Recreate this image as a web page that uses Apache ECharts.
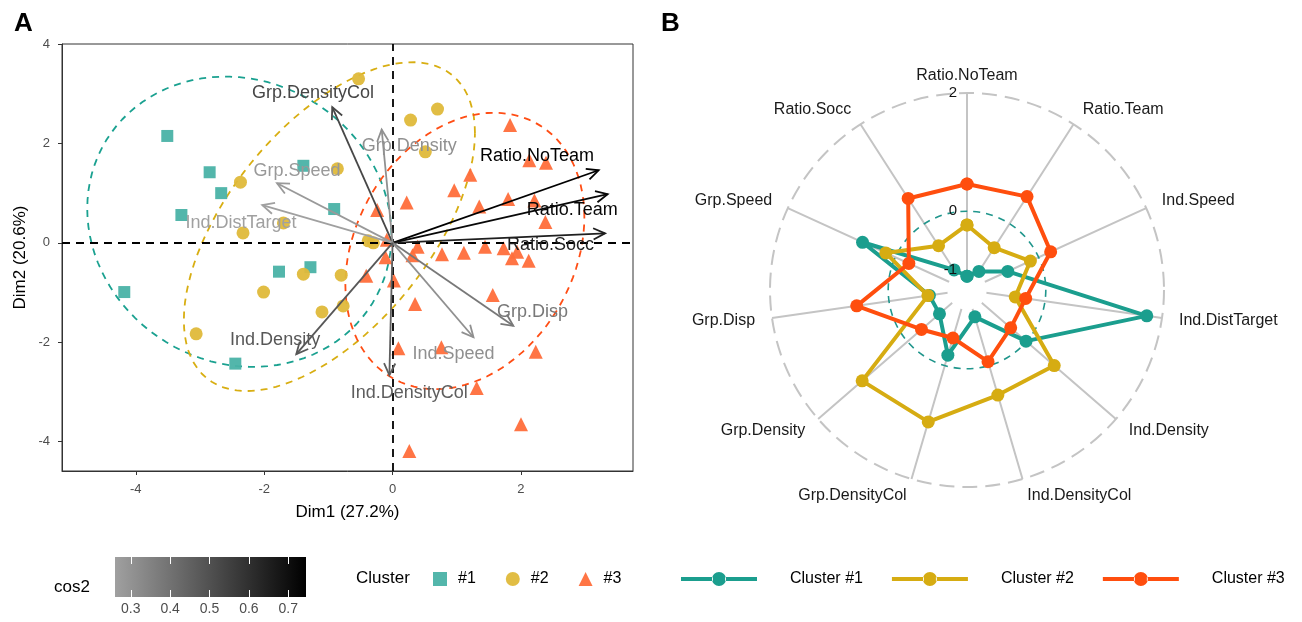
<!DOCTYPE html>
<html><head><meta charset="utf-8">
<script src="https://cdn.jsdelivr.net/npm/echarts@6/dist/echarts.min.js"></script>
<style>html,body{margin:0;padding:0;background:#fff}#c{width:1302px;height:622px}</style>
</head><body><div id="c"></div>
<script>
// ---------- Panel A: individuals (Dim1, Dim2) per cluster ----------
const clusterNames = ['#1', '#2', '#3'];
const c1x = [-3.51,-2.85,-2.67,-3.29,-1.39,-0.91,-4.18,-1.77,-1.28,-2.45];
const c1y = [2.15,1.42,1.00,0.56,1.55,0.68,-0.99,-0.58,-0.49,-2.43];
const c2x = [-0.53,0.70,0.28,0.51,-0.86,-2.37,-1.70,-2.33,-1.39,-0.80,-2.01,-1.10,-0.77,-3.06,-0.38,-0.30];
const c2y = [3.30,2.69,2.47,1.83,1.49,1.22,0.40,0.20,-0.63,-0.65,-0.99,-1.39,-1.27,-1.83,0.04,0.00];
const c3x = [1.83,2.13,2.39,1.21,0.96,0.22,-0.24,1.35,1.80,2.21,2.38,-0.09,0.39,0.31,0.77,1.11,1.44,1.73,1.86,1.94,2.12,-0.11,-0.41,0.02,0.35,1.56,0.09,0.76,2.23,1.31,2.00,0.26];
const c3y = [2.37,1.66,1.61,1.37,1.06,0.81,0.66,0.73,0.88,0.85,0.42,0.06,-0.08,-0.25,-0.23,-0.20,-0.08,-0.11,-0.31,-0.18,-0.36,-0.29,-0.66,-0.76,-1.23,-1.05,-2.12,-2.10,-2.19,-2.92,-3.65,-4.19];

// variables (arrows)
const varNames = ['Ratio.NoTeam','Ratio.Team','Ratio.Socc','Grp.DensityCol','Grp.Density','Grp.Speed','Ind.DistTarget','Grp.Disp','Ind.Speed','Ind.DensityCol','Ind.Density'];
const varDim1 = [3.21,3.35,3.31,-0.94,-0.17,-1.80,-2.03,1.88,1.26,-0.05,-1.50];
const varDim2 = [1.46,0.98,0.19,2.73,2.28,1.20,0.76,-1.67,-1.90,-2.66,-2.24];
const varCos2 = [0.745,0.72,0.65,0.53,0.31,0.28,0.26,0.38,0.31,0.46,0.48];
const varLabelDim1 = [2.25,2.80,2.46,-1.24,0.26,-1.49,-2.36,2.18,0.95,0.26,-1.83];
const varLabelDim2 = [1.75,0.65,-0.05,3.01,1.95,1.44,0.40,-1.39,-2.24,-3.02,-1.96];

const xTicks = [-4, -2, 0, 2];
const yTicks = [-4, -2, 0, 2, 4];
const cosTicks = [0.3, 0.4, 0.5, 0.6, 0.7];

// ---------- Panel B: radar ----------
const radarAxes = ['Ratio.NoTeam','Ratio.Team','Ind.Speed','Ind.DistTarget','Ind.Density','Ind.DensityCol','Grp.DensityCol','Grp.Density','Grp.Disp','Grp.Speed','Ratio.Socc'];
const radarNames = ['Cluster #1', 'Cluster #2', 'Cluster #3'];
const radar1 = [-1.10,-0.96,-0.575,1.74,-0.012,-0.86,-0.184,-0.717,-0.69,0.61,-0.93];
const radar2 = [-0.233,-0.482,-0.154,-0.509,0.62,0.52,0.993,1.014,-0.665,0.178,-0.443];
const radar3 = [0.46,0.545,0.223,-0.33,-0.355,-0.07,-0.487,-0.314,0.552,-0.252,0.508];
const radarTicks = [-1, 0, 2];
const radarMin = -4/3, radarMax = 2;

// ---------- styling ----------
const FONT = '"Liberation Sans", Arial, sans-serif';
const ptCol = ['#4AB2A7', '#DFB93A', '#FF6E3B'];
const ellCol = ['#1AA190', '#D8AE12', '#FF4D14'];
const radCol = ['#1B9E8E', '#D6AC12', '#FF4E0E'];
const LOW_GRAY = 160;
const cosLo = Math.min(...varCos2), cosHi = Math.max(...varCos2);
function grayFor(c) {
  const t = (c - cosLo) / (cosHi - cosLo);
  const g = Math.round(LOW_GRAY * (1 - t));
  return 'rgb(' + g + ',' + g + ',' + g + ')';
}

// multivariate-t ellipse (robust scatter, as in ggplot2 stat_ellipse type "t")
const ellipseLevel = 0.9;
function tEllipse(xs, ys) {
  const n = xs.length, p = 2, nu = 5;
  let loc = [xs.reduce((a, b) => a + b, 0) / n, ys.reduce((a, b) => a + b, 0) / n];
  let w = new Array(n).fill(1);
  let X = [];
  for (let it = 0; it < 25; it++) {
    const w0 = w.slice();
    X = xs.map((x, i) => [x - loc[0], ys[i] - loc[1]]);
    const sw = w.reduce((a, b) => a + b, 0);
    let a = 0, b = 0, c = 0;
    X.forEach((d, i) => { a += w[i] * d[0] * d[0]; b += w[i] * d[0] * d[1]; c += w[i] * d[1] * d[1]; });
    a /= sw; b /= sw; c /= sw;
    const det = a * c - b * b;
    w = X.map(d => (nu + p) / (nu + (c * d[0] * d[0] - 2 * b * d[0] * d[1] + a * d[1] * d[1]) / det));
    const sw2 = w.reduce((s, v) => s + v, 0);
    loc = [xs.reduce((s, x, i) => s + w[i] * x, 0) / sw2, ys.reduce((s, y, i) => s + w[i] * y, 0) / sw2];
    if (w.every((v, i) => Math.abs(v - w0[i]) < 0.01)) break;
  }
  let a = 0, b = 0, c = 0;
  X.forEach((d, i) => { a += w[i] * d[0] * d[0]; b += w[i] * d[0] * d[1]; c += w[i] * d[1] * d[1]; });
  a /= n; b /= n; c /= n;
  const dfd = n - 1;
  const fq = (dfd / 2) * (Math.pow(1 - ellipseLevel, -2 / dfd) - 1);
  const radius = Math.sqrt(2 * fq);
  const r11 = Math.sqrt(a), r12 = b / r11, r22 = Math.sqrt(Math.max(c - r12 * r12, 0));
  const pts = [];
  for (let k = 0; k <= 100; k++) {
    const t = 2 * Math.PI * k / 100;
    const u = Math.cos(t), v = Math.sin(t);
    pts.push([loc[0] + radius * u * r11, loc[1] + radius * (u * r12 + v * r22)]);
  }
  return pts;
}

const clusters = [[c1x, c1y], [c2x, c2y], [c3x, c3y]];
const symbols = ['rect', 'circle', 'triangle'];
const symSizes = [12, 13, 14];

const series = [];
clusters.forEach((c, k) => {
  series.push({
    type: 'line', name: 'ellipse' + k, xAxisIndex: 0, yAxisIndex: 0,
    data: tEllipse(c[0], c[1]), showSymbol: false, symbol: 'none', smooth: false,
    lineStyle: { color: ellCol[k], width: 1.8, type: [7, 6] }, z: 2, silent: true
  });
});
clusters.forEach((c, k) => {
  const s = {
    type: 'scatter', name: clusterNames[k], xAxisIndex: 0, yAxisIndex: 0,
    data: c[0].map((x, i) => [x, c[1][i]]),
    symbol: symbols[k], symbolSize: symSizes[k],
    itemStyle: { color: ptCol[k], opacity: 0.95 }, z: 3
  };
  if (k === 0) {
    s.markLine = {
      silent: true, symbol: 'none', label: { show: false },
      lineStyle: { color: '#000', type: [8, 6], width: 1.8 },
      data: [{ xAxis: 0 }, { yAxis: 0 }]
    };
  }
  series.push(s);
});

// arrows + labels
series.push({
  type: 'custom', name: 'vars', xAxisIndex: 0, yAxisIndex: 0, z: 5, silent: true,
  data: varDim1.map((x, i) => [x, varDim2[i], varCos2[i]]),
  encode: { x: 0, y: 1 },
  renderItem: function (params, api) {
    const i = params.dataIndex;
    const o = api.coord([0, 0]);
    const p = api.coord([api.value(0), api.value(1)]);
    const col = grayFor(api.value(2));
    const ang = Math.atan2(p[1] - o[1], p[0] - o[0]);
    const L = 13, a = Math.PI / 7;
    const h1 = [p[0] - L * Math.cos(ang - a), p[1] - L * Math.sin(ang - a)];
    const h2 = [p[0] - L * Math.cos(ang + a), p[1] - L * Math.sin(ang + a)];
    const lp = api.coord([varLabelDim1[i], varLabelDim2[i]]);
    return {
      type: 'group', children: [
        { type: 'line', shape: { x1: o[0], y1: o[1], x2: p[0], y2: p[1] }, style: { stroke: col, lineWidth: 1.8 } },
        { type: 'polyline', shape: { points: [h1, p, h2] }, style: { stroke: col, lineWidth: 1.8, fill: null } },
        { type: 'text', x: lp[0], y: lp[1], style: { text: varNames[i], fill: col, font: '18px ' + FONT, align: 'center', verticalAlign: 'middle' } }
      ]
    };
  }
});

// radar frame (grid circles, center hole)
const step = 360 / radarAxes.length;
series.push({
  type: 'custom', name: 'radarGrid', coordinateSystem: 'polar', polarIndex: 0, z: 1, silent: true,
  data: radarTicks.map(v => [v, 0]),
  renderItem: function (params, api) {
    const c = api.coord([radarMin, 0]);
    const p = api.coord([api.value(0), 0]);
    const r = Math.hypot(p[0] - c[0], p[1] - c[1]);
    let style;
    if (params.dataIndex === 0) style = { fill: '#fff', stroke: null };
    else if (params.dataIndex === 1) style = { fill: null, stroke: '#20968C', lineWidth: 1.6, lineDash: [7, 6] };
    else style = { fill: null, stroke: '#C4C4C4', lineWidth: 2, lineDash: [15, 8] };
    return { type: 'circle', shape: { cx: c[0], cy: c[1], r: r }, style: style };
  }
});
// radar tick labels (drawn on top)
series.push({
  type: 'custom', name: 'radarTickLabels', coordinateSystem: 'polar', polarIndex: 0, z: 10, silent: true,
  data: radarTicks.map(v => [v, 0]),
  renderItem: function (params, api) {
    const p = api.coord([api.value(0), 0]);
    return { type: 'text', x: p[0] - 10, y: p[1], style: { text: String(radarTicks[params.dataIndex]), fill: '#111', font: '15px ' + FONT, align: 'right', verticalAlign: 'middle' } };
  }
});
// radar axis labels
series.push({
  type: 'custom', name: 'radarLabels', coordinateSystem: 'polar', polarIndex: 0, z: 1, silent: true,
  data: radarAxes.map((n, i) => [radarMax, i * step]),
  renderItem: function (params, api) {
    const c = api.coord([radarMin, 0]);
    const p = api.coord([api.value(0), api.value(1)]);
    const f = 1.087;
    const x = c[0] + (p[0] - c[0]) * f, y = c[1] + (p[1] - c[1]) * f;
    const dx = p[0] - c[0];
    const align = dx > 5 ? 'left' : (dx < -5 ? 'right' : 'center');
    return { type: 'text', x: x, y: y, style: { text: radarAxes[params.dataIndex], fill: '#1a1a1a', font: '16px ' + FONT, align: align, verticalAlign: 'middle' } };
  }
});
[radar1, radar2, radar3].forEach((vals, k) => {
  const d = vals.map((v, i) => [v, i * step]);
  d.push([vals[0], 360]);
  series.push({
    type: 'line', name: radarNames[k], coordinateSystem: 'polar', polarIndex: 0,
    data: d, symbol: 'circle', symbolSize: 13, showSymbol: true,
    lineStyle: { color: radCol[k], width: 4 }, itemStyle: { color: radCol[k] }, z: 4 + k
  });
});

const lineLegendIcon = 'path://M0,5H32V9H0Z M44,5H76V9H44Z M31,7a7,7 0 1,0 14,0a7,7 0 1,0 -14,0Z';

const option = {
  animation: false,
  backgroundColor: '#fff',
  textStyle: { fontFamily: FONT },
  title: [
    { text: 'A', left: 9, top: 6, textStyle: { fontSize: 26, fontWeight: 'bold', color: '#000', fontFamily: FONT } },
    { text: 'B', left: 656, top: 6, textStyle: { fontSize: 26, fontWeight: 'bold', color: '#000', fontFamily: FONT } },
    { text: 'cos2', left: 49, top: 574, textStyle: { fontSize: 17, fontWeight: 'normal', color: '#000', fontFamily: FONT } },
    { text: 'Cluster', left: 351, top: 565, textStyle: { fontSize: 17, fontWeight: 'normal', color: '#000', fontFamily: FONT } }
  ],
  grid: [
    { left: 62, top: 44, width: 571, height: 427, show: true, borderColor: '#333', borderWidth: 1, backgroundColor: 'transparent' },
    { left: 115, top: 557, width: 191, height: 40, show: true, borderWidth: 0,
      backgroundColor: new echarts.graphic.LinearGradient(0, 0, 1, 0, [
        { offset: 0, color: grayFor(cosLo) }, { offset: 1, color: grayFor(cosHi) }]) }
  ],
  xAxis: [
    { gridIndex: 0, type: 'value', min: -5.15, max: 3.745,
      name: 'Dim1 (27.2%)', nameLocation: 'middle', nameGap: 33,
      nameTextStyle: { fontSize: 17, color: '#000', fontFamily: FONT },
      axisLine: { onZero: false, lineStyle: { color: '#333', width: 1 } },
      axisTick: { show: true, length: 4, customValues: xTicks, lineStyle: { color: '#333' } },
      axisLabel: { customValues: xTicks, color: '#4D4D4D', fontSize: 13, margin: 12, fontFamily: FONT },
      splitLine: { show: false } },
    { gridIndex: 1, type: 'value', min: cosLo, max: cosHi, position: 'bottom',
      axisLine: { show: false },
      axisTick: { show: true, inside: true, length: 7, customValues: cosTicks, lineStyle: { color: '#fff', width: 1 } },
      axisLabel: { customValues: cosTicks, color: '#4D4D4D', fontSize: 14, margin: 5, fontFamily: FONT, formatter: v => v.toFixed(1) },
      splitLine: { show: false } },
    { gridIndex: 1, type: 'value', min: cosLo, max: cosHi, position: 'top',
      axisLine: { show: false },
      axisTick: { show: true, inside: true, length: 7, customValues: cosTicks, lineStyle: { color: '#fff', width: 1 } },
      axisLabel: { show: false }, splitLine: { show: false } }
  ],
  yAxis: [
    { gridIndex: 0, type: 'value', min: -4.59, max: 4.0,
      name: 'Dim2 (20.6%)', nameLocation: 'middle', nameGap: 33, nameRotate: 90,
      nameTextStyle: { fontSize: 17, color: '#000', fontFamily: FONT },
      axisLine: { onZero: false, lineStyle: { color: '#333', width: 1 } },
      axisTick: { show: true, length: 4, customValues: yTicks, lineStyle: { color: '#333' } },
      axisLabel: { customValues: yTicks, color: '#4D4D4D', fontSize: 13, margin: 12, fontFamily: FONT },
      splitLine: { show: false } },
    { gridIndex: 1, type: 'value', min: 0, max: 1, show: false }
  ],
  polar: { center: [967, 290], radius: 197 },
  angleAxis: { type: 'value', min: 0, max: 360, interval: step, startAngle: 90, clockwise: true,
    axisLine: { show: false }, axisTick: { show: false }, axisLabel: { show: false },
    splitLine: { show: true, lineStyle: { color: '#C4C4C4', width: 2 } } },
  radiusAxis: { type: 'value', min: radarMin, max: radarMax,
    axisLine: { show: false }, axisTick: { show: false }, axisLabel: { show: false }, splitLine: { show: false } },
  legend: [
    { data: clusterNames, left: 428, top: 566, orient: 'horizontal', itemWidth: 14, itemHeight: 14, itemGap: 30,
      textStyle: { fontSize: 16, color: '#000', fontFamily: FONT, padding: [0, 0, 0, 6] }, selectedMode: false },
    { data: radarNames.map(n => ({ name: n, icon: lineLegendIcon })), left: 676, top: 566, orient: 'horizontal',
      itemWidth: 76, itemHeight: 14, itemGap: 29,
      textStyle: { fontSize: 16, color: '#000', fontFamily: FONT, padding: [0, 0, 0, 28] }, selectedMode: false }
  ],
  series: series
};
const chart = echarts.init(document.getElementById('c'), null, { renderer: 'canvas' });
chart.setOption(option);
</script></body></html>
